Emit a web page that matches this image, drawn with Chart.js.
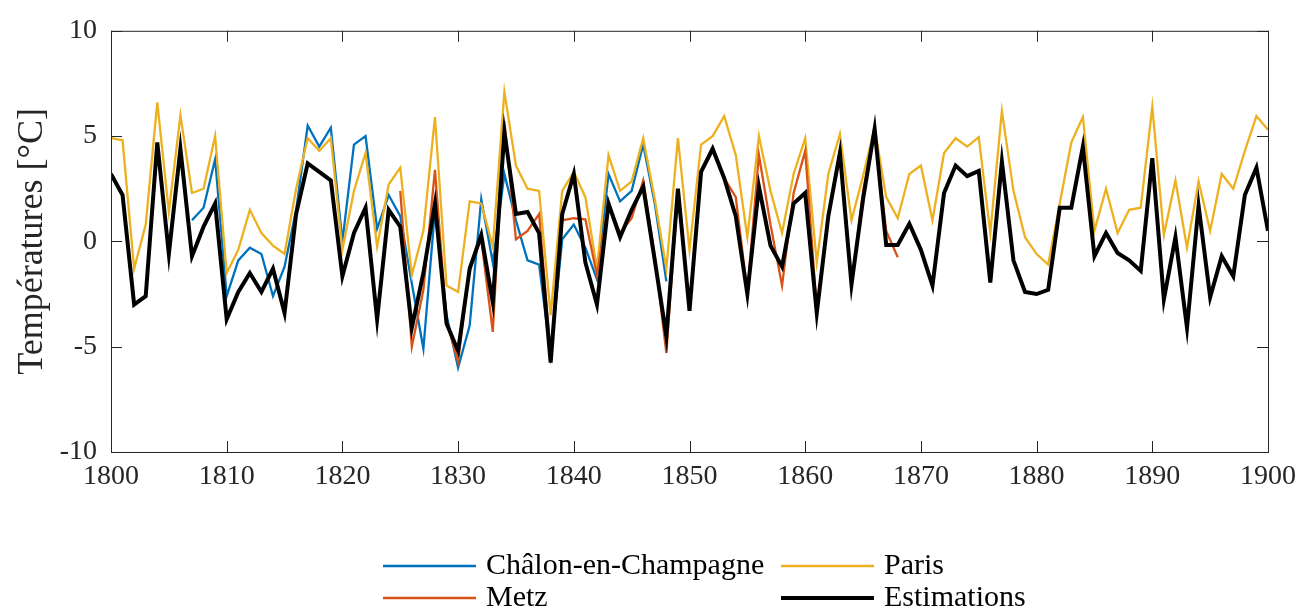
<!DOCTYPE html>
<html><head><meta charset="utf-8">
<script src="https://cdn.jsdelivr.net/npm/chart.js@4"></script>
<style>html,body{margin:0;padding:0;background:#fff}#wrap{width:1304px;height:613px;position:relative}</style>
</head><body><div id="wrap"><canvas id="c" width="1304" height="613"></canvas></div>
<script>
const years = [1800,1801,1802,1803,1804,1805,1806,1807,1808,1809,1810,1811,1812,1813,1814,1815,1816,1817,1818,1819,
1820,1821,1822,1823,1824,1825,1826,1827,1828,1829,1830,1831,1832,1833,1834,1835,1836,1837,1838,1839,
1840,1841,1842,1843,1844,1845,1846,1847,1848,1849,1850,1851,1852,1853,1854,1855,1856,1857,1858,1859,
1860,1861,1862,1863,1864,1865,1866,1867,1868,1869,1870,1871,1872,1873,1874,1875,1876,1877,1878,1879,
1880,1881,1882,1883,1884,1885,1886,1887,1888,1889,1890,1891,1892,1893,1894,1895,1896,1897,1898,1899,1900];

const chalon = [null,null,null,null,null,null,null,1.0,1.6,3.9,-2.6,-0.9,-0.3,-0.6,-2.6,-1.2,1.5,5.5,4.5,5.4,
0.0,4.6,5.0,0.6,2.2,1.2,-2.0,-5.1,1.5,-3.5,-6.0,-4.0,2.0,-1.0,3.2,1.0,-0.9,-1.1,-5.4,0.1,
0.8,-0.3,-1.8,3.2,1.9,2.4,4.6,1.8,-1.9,null,null,null,null,null,null,null,null,null,null,null,
null,null,null,null,null,null,null,null,null,null,null,null,null,null,null,null,null,null,null,null,
null,null,null,null,null,null,null,null,null,null,null,null,null,null,null,null,null,null,null,null,null];

const paris = [4.9,4.8,-1.3,0.8,6.6,1.4,6.0,2.3,2.5,5.0,-1.5,-0.4,1.5,0.4,-0.2,-0.6,2.5,4.9,4.3,4.9,
-0.4,2.4,4.2,-0.25,2.7,3.5,-1.6,0.5,5.9,-2.1,-2.4,1.9,1.8,-0.25,7.1,3.6,2.5,2.4,-3.5,2.4,
3.3,2.1,-1.3,4.1,2.4,2.85,4.9,2.0,-1.3,4.9,-0.4,4.6,5.0,5.95,4.1,0.2,5.0,2.4,0.4,3.2,
4.9,-1.0,3.2,5.1,1.0,3.1,5.4,2.1,1.1,3.2,3.6,1.0,4.2,4.9,4.5,4.95,0.4,6.2,2.4,0.2,
-0.6,-1.1,1.8,4.7,5.9,0.5,2.5,0.4,1.5,1.6,6.4,0.3,2.9,-0.3,2.85,0.5,3.2,2.5,4.3,5.95,5.3];

const metz = [null,null,null,null,null,null,null,null,null,null,null,null,null,null,null,null,null,null,null,null,
null,null,null,null,null,2.4,-5.0,-2.3,3.4,-3.8,-5.7,-1.2,0.1,-4.3,5.7,0.1,0.5,1.3,-5.4,1.0,
1.1,1.05,-1.6,1.8,0.4,1.1,2.9,-0.7,-5.3,2.4,-3.2,3.3,4.3,3.0,2.1,-2.4,4.1,0.8,-2.1,2.3,
4.3,-3.2,1.2,4.3,-2.0,2.4,5.2,0.5,-0.75,null,null,null,null,null,null,null,null,null,null,null,
null,null,null,null,null,null,null,null,null,null,null,null,null,null,null,null,null,null,null,null,null];

const estimations = [3.2,2.2,-3.0,-2.6,4.7,-0.6,4.4,-0.7,0.7,1.8,-3.7,-2.4,-1.5,-2.4,-1.3,-3.4,1.3,3.7,3.3,2.9,
-1.65,0.4,1.6,-3.7,1.5,0.7,-4.1,-1.5,1.8,-3.9,-5.2,-1.3,0.3,-2.9,5.2,1.3,1.4,0.4,-5.75,1.3,
3.2,-1.0,-3.0,1.8,0.2,1.5,2.6,-0.9,-4.5,2.5,-3.3,3.3,4.4,3.0,1.2,-2.5,2.6,-0.2,-1.2,1.8,
2.3,-3.4,1.2,4.2,-2.05,2.0,5.35,-0.17,-0.17,0.84,-0.4,-2.1,2.3,3.6,3.1,3.35,-1.95,3.8,-0.9,-2.4,
-2.5,-2.3,1.6,1.6,4.5,-0.7,0.4,-0.55,-0.9,-1.4,3.95,-2.75,0.2,-4.1,1.7,-2.65,-0.7,-1.65,2.2,3.5,0.5];

const seriesNames = ['Châlon-en-Champagne','Paris','Metz','Estimations'];
const xTicks = [1800,1810,1820,1830,1840,1850,1860,1870,1880,1890,1900];
const yTicks = [-10,-5,0,5,10];
const yTitle = 'Températures [°C]';

const FONT = "'Liberation Serif','Times New Roman',serif";
const toPts = arr => years.map((y,i)=>({x:y, y:arr[i]}));

const boxPlugin = {
  id:'box',
  afterDatasetsDraw(chart){
    const {ctx, chartArea:a, scales:{x,y}} = chart;
    ctx.save();
    ctx.strokeStyle = '#262626';
    ctx.lineWidth = 1;
    ctx.strokeRect(a.left+0.5, a.top+0.5, a.right-a.left, a.bottom-a.top);
    const tl = 11;
    ctx.beginPath();
    xTicks.forEach(v=>{
      const px = Math.round(x.getPixelForValue(v))+0.5;
      ctx.moveTo(px, a.bottom); ctx.lineTo(px, a.bottom-tl);
      ctx.moveTo(px, a.top); ctx.lineTo(px, a.top+tl);
    });
    yTicks.forEach(v=>{
      const py = Math.round(y.getPixelForValue(v))+0.5;
      ctx.moveTo(a.left, py); ctx.lineTo(a.left+tl, py);
      ctx.moveTo(a.right, py); ctx.lineTo(a.right-tl, py);
    });
    ctx.stroke();
    ctx.restore();
  },
  afterDraw(chart){
    const ctx = chart.ctx;
    const ds = chart.data.datasets;
    const pos = [[383,566],[781,566],[383,598],[781,598]];
    ctx.save();
    ctx.font = "30px " + FONT;
    ctx.textBaseline = 'middle';
    ctx.fillStyle = '#000';
    ds.forEach((d,i)=>{
      const [lx,ly] = pos[i];
      ctx.beginPath();
      ctx.strokeStyle = d.borderColor;
      ctx.lineWidth = d.borderWidth;
      ctx.moveTo(lx, ly); ctx.lineTo(lx+93, ly);
      ctx.stroke();
      ctx.fillText(d.label, lx+103, ly);
    });
    ctx.restore();
  }
};

new Chart(document.getElementById('c'), {
  type:'line',
  data:{
    datasets:[
      {label:seriesNames[0], data:toPts(chalon), borderColor:'#0072BD', borderWidth:2.3, order:3},
      {label:seriesNames[1], data:toPts(paris), borderColor:'#EDB120', borderWidth:2.3, order:2},
      {label:seriesNames[2], data:toPts(metz), borderColor:'#D95319', borderWidth:2.3, order:1},
      {label:seriesNames[3], data:toPts(estimations), borderColor:'#000000', borderWidth:4, order:0}
    ]
  },
  options:{
    responsive:false, animation:false, devicePixelRatio:1,
    spanGaps:false,
    elements:{point:{radius:0, hoverRadius:0}, line:{tension:0, borderJoinStyle:'miter'}},
    layout:{padding:{left:0,right:33,top:22,bottom:0}},
    plugins:{legend:{display:false}, tooltip:{enabled:false}},
    scales:{
      x:{type:'linear', min:1800, max:1900,
        afterBuildTicks(s){ s.ticks = xTicks.map(v=>({value:v})); },
        afterFit(s){ s.height = 161; },
        grid:{display:false, drawTicks:false}, border:{display:false},
        ticks:{font:{family:FONT, size:28}, color:'#262626', padding:8, maxRotation:0, callback:v=>String(v)}
      },
      y:{type:'linear', min:-10, max:10,
        afterBuildTicks(s){ s.ticks = yTicks.map(v=>({value:v})); },
        afterFit(s){ s.width = 111; },
        grid:{display:false, drawTicks:false}, border:{display:false},
        ticks:{font:{family:FONT, size:28}, color:'#262626', padding:14, callback:v=>String(v)},
        title:{display:true, text:yTitle, font:{family:FONT, size:36}, color:'#262626', padding:{top:11,bottom:0}}
      }
    }
  },
  plugins:[boxPlugin]
});
</script></body></html>
